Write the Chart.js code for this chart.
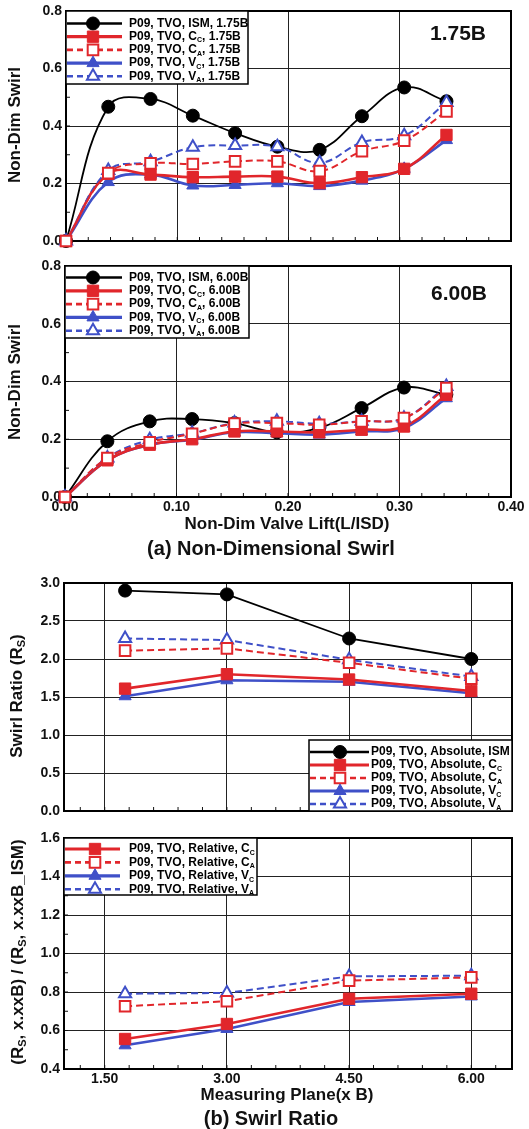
<!DOCTYPE html>
<html>
<head>
<meta charset="utf-8">
<script src="https://cdn.jsdelivr.net/npm/chart.js@4.4.1/dist/chart.umd.min.js"></script>
<style>
  body { margin: 0; background: #fff; width: 529px; height: 1129px; position: relative; overflow: hidden; }
  canvas { position: absolute; left: 0; }
  .cap { position: absolute; left: 0; width: 542px; text-align: center; font: bold 20px "Liberation Sans", Arial, sans-serif; color: #111; line-height: 22px; }
</style>
</head>
<body>
<canvas id="c1" width="529" height="252" style="top:0px"></canvas>
<canvas id="c2" width="529" height="290" style="top:252px"></canvas>
<div class="cap" style="top:537px">(a) Non-Dimensional Swirl</div>
<canvas id="c3" width="529" height="252" style="top:570px"></canvas>
<canvas id="c4" width="529" height="285" style="top:826px"></canvas>
<div class="cap" style="top:1107px">(b) Swirl Ratio</div>
<script>
// ---- data ----
var liftX = [0, 0.038, 0.076, 0.114, 0.152, 0.190, 0.228, 0.266, 0.304, 0.342];

var ism175 = [0, 0.467, 0.494, 0.436, 0.375, 0.328, 0.317, 0.434, 0.534, 0.486];
var cc175  = [0, 0.234, 0.231, 0.222, 0.224, 0.224, 0.201, 0.222, 0.251, 0.369];
var ca175  = [0, 0.236, 0.270, 0.268, 0.277, 0.277, 0.243, 0.312, 0.349, 0.451];
var vc175  = [0, 0.205, 0.231, 0.193, 0.195, 0.201, 0.191, 0.210, 0.251, 0.351];
var va175  = [0, 0.245, 0.276, 0.326, 0.332, 0.328, 0.272, 0.343, 0.366, 0.482];

var ism600 = [0, 0.193, 0.262, 0.270, 0.256, 0.224, 0.239, 0.308, 0.379, 0.355];
var cc600  = [0, 0.127, 0.181, 0.200, 0.227, 0.227, 0.224, 0.233, 0.244, 0.354];
var ca600  = [0, 0.135, 0.189, 0.219, 0.254, 0.256, 0.250, 0.262, 0.273, 0.377];
var vc600  = [0, 0.127, 0.181, 0.198, 0.224, 0.221, 0.216, 0.227, 0.239, 0.342];
var va600  = [0, 0.135, 0.198, 0.221, 0.256, 0.262, 0.254, 0.262, 0.273, 0.383];

var planes = [1.75, 3.00, 4.50, 6.00];
var absIsm = [2.90, 2.85, 2.27, 2.00];
var absCc  = [1.61, 1.80, 1.73, 1.58];
var absCa  = [2.11, 2.14, 1.95, 1.74];
var absVc  = [1.51, 1.72, 1.70, 1.55];
var absVa  = [2.27, 2.25, 1.99, 1.77];

var relCc = [0.556, 0.634, 0.765, 0.791];
var relCa = [0.726, 0.752, 0.859, 0.876];
var relVc = [0.523, 0.608, 0.748, 0.777];
var relVa = [0.791, 0.795, 0.881, 0.885];

var liftTicks  = [0, 0.1, 0.2, 0.3, 0.4];
var swirlTicks = [0, 0.2, 0.4, 0.6, 0.8];
var planeTicks = [1.5, 3.0, 4.5, 6.0];
var ratioTicks = [0, 0.5, 1.0, 1.5, 2.0, 2.5, 3.0];
var relTicks   = [0.4, 0.6, 0.8, 1.0, 1.2, 1.4, 1.6];

// ---- styles ----
var FONT = '"Liberation Sans", Arial, Helvetica, sans-serif';
var RED = '#e1262b', BLUE = '#3f50c8';
var styles = {
  ism: { borderColor: '#000', borderWidth: 1.8, pointStyle: 'circle', pointRadius: 6.5, pointBackgroundColor: '#000', pointBorderColor: '#000', order: 5 },
  cc:  { borderColor: RED, borderWidth: 2.6, pointStyle: 'rect', pointRadius: 8, pointBackgroundColor: RED, pointBorderColor: RED, order: 3 },
  ca:  { borderColor: RED, borderWidth: 2, borderDash: [7, 4], pointStyle: 'rect', pointRadius: 7.5, pointBackgroundColor: '#fff', pointBorderColor: RED, pointBorderWidth: 2, order: 1 },
  vc:  { borderColor: BLUE, borderWidth: 2.6, pointStyle: 'triangle', pointRadius: 7, pointBackgroundColor: BLUE, pointBorderColor: BLUE, order: 4 },
  va:  { borderColor: BLUE, borderWidth: 2, borderDash: [7, 4], pointStyle: 'triangle', pointRadius: 7, pointBackgroundColor: '#fff', pointBorderColor: BLUE, pointBorderWidth: 2, order: 2 }
};

function series(kind, label, xs, ys, tension) {
  var ds = Object.assign({ label: label, tension: tension, clip: false, fill: false, pointBorderWidth: 1 }, styles[kind]);
  ds.data = xs.map(function (x, i) { return { x: x, y: ys[i] }; });
  return ds;
}

// ---- text with subscripts ----
function drawRich(ctx, parts, x, y, size, align) {
  var main = 'bold ' + size + 'px ' + FONT;
  var small = 'bold ' + Math.round(size * 0.62) + 'px ' + FONT;
  var w = 0;
  parts.forEach(function (p) {
    ctx.font = typeof p === 'string' ? main : small;
    w += ctx.measureText(typeof p === 'string' ? p : p.sub).width;
  });
  var cx = align === 'center' ? x - w / 2 : x;
  ctx.textAlign = 'left';
  ctx.textBaseline = 'middle';
  parts.forEach(function (p) {
    if (typeof p === 'string') {
      ctx.font = main; ctx.fillText(p, cx, y); cx += ctx.measureText(p).width;
    } else {
      ctx.font = small; ctx.fillText(p.sub, cx, y + size * 0.32); cx += ctx.measureText(p.sub).width;
    }
  });
}

function drawMarker(ctx, ds, x, y) {
  var r = ds.pointRadius;
  ctx.save();
  ctx.setLineDash([]);
  ctx.fillStyle = ds.pointBackgroundColor;
  ctx.strokeStyle = ds.pointBorderColor;
  ctx.lineWidth = ds.pointBorderWidth || 1;
  ctx.beginPath();
  if (ds.pointStyle === 'circle') {
    ctx.arc(x, y, r, 0, Math.PI * 2);
  } else if (ds.pointStyle === 'rect') {
    var s = r / Math.SQRT2;
    ctx.rect(x - s, y - s, 2 * s, 2 * s);
  } else {
    ctx.moveTo(x, y - r);
    ctx.lineTo(x + r * 0.866, y + r * 0.5);
    ctx.lineTo(x - r * 0.866, y + r * 0.5);
    ctx.closePath();
  }
  ctx.fill();
  ctx.stroke();
  ctx.restore();
}

// frame round the plot and inward minor ticks
var framePlugin = {
  id: 'frame',
  beforeDatasetsDraw: function (chart, args, o) {
    var ctx = chart.ctx, a = chart.chartArea;
    var xs = chart.scales.x, ys = chart.scales.y;
    ctx.save();
    ctx.strokeStyle = '#111';
    ctx.lineWidth = 1;
    function minor(scale, step, base, horiz) {
      var v = base + Math.ceil((scale.min - base) / step - 1e-6) * step;
      for (; v <= scale.max + 1e-9; v += step) {
        var p = scale.getPixelForValue(v);
        ctx.beginPath();
        if (horiz) { ctx.moveTo(p, a.bottom); ctx.lineTo(p, a.bottom - 4); }
        else { ctx.moveTo(a.left, p); ctx.lineTo(a.left + 4, p); }
        ctx.stroke();
      }
    }
    if (o.xMinor) minor(xs, o.xMinor, o.xBase || 0, true);
    if (o.yMinor) minor(ys, o.yMinor, o.yBase || 0, false);
    ctx.lineWidth = 2;
    ctx.strokeStyle = '#000';
    ctx.strokeRect(a.left, a.top, a.right - a.left, a.bottom - a.top);
    ctx.restore();
  }
};

// boxed legend with line + marker samples
var legendPlugin = {
  id: 'boxLegend',
  afterDatasetsDraw: function (chart, args, o) {
    if (!o.items) return;
    var ctx = chart.ctx, a = chart.chartArea;
    var left = o.alignRight ? a.right - o.w : a.left;
    var top = o.alignBottom ? a.bottom - o.h : a.top;
    ctx.save();
    ctx.fillStyle = '#fff';
    ctx.fillRect(left, top, o.w, o.h);
    ctx.strokeStyle = '#000';
    ctx.lineWidth = 1.5;
    ctx.strokeRect(left, top, o.w, o.h);
    o.items.forEach(function (parts, i) {
      var ds = chart.data.datasets[i];
      var y = top + o.first + i * o.row;
      ctx.strokeStyle = ds.borderColor;
      ctx.lineWidth = ds.borderWidth + 0.6;
      ctx.setLineDash(ds.borderDash ? [6, 4] : []);
      ctx.beginPath();
      ctx.moveTo(left + 1, y);
      ctx.lineTo(left + o.lineW, y);
      ctx.stroke();
      drawMarker(ctx, ds, left + o.markX, y);
      ctx.fillStyle = '#000';
      drawRich(ctx, parts, left + o.textX, y, 12, 'left');
    });
    ctx.restore();
  }
};

// axis titles and panel labels
var textPlugin = {
  id: 'texts',
  afterDraw: function (chart, args, o) {
    var ctx = chart.ctx;
    ctx.save();
    ctx.fillStyle = '#111';
    (o.items || []).forEach(function (t) {
      ctx.save();
      ctx.translate(t.x, t.y);
      if (t.rotate) ctx.rotate(-Math.PI / 2);
      drawRich(ctx, t.parts, 0, 0, t.size, 'center');
      ctx.restore();
    });
    ctx.restore();
  }
};

Chart.register(framePlugin, legendPlugin, textPlugin);

function axis(min, max, ticks, digits, showLabels, fixedSize, horiz) {
  var ax = {
    type: 'linear', min: min, max: max,
    afterBuildTicks: function (s) { s.ticks = ticks.map(function (v) { return { value: v }; }); },
    grid: { color: '#222', lineWidth: 1, drawTicks: false },
    border: { display: false },
    ticks: {
      display: showLabels, color: '#111', padding: horiz ? 3 : 4,
      font: { family: FONT, size: 14, weight: 'bold', lineHeight: 1 },
      callback: function (v) { return Number(v).toFixed(digits); }
    }
  };
  ax.afterFit = horiz ? function (s) { s.height = fixedSize; } : function (s) { s.width = fixedSize; };
  return ax;
}

function makeChart(id, datasets, cfg) {
  return new Chart(document.getElementById(id), {
    type: 'line',
    data: { datasets: datasets },
    options: {
      responsive: false, animation: false, events: [],
      layout: { padding: { top: cfg.top, right: cfg.right, left: 0, bottom: 0 } },
      plugins: {
        legend: { display: false }, tooltip: { enabled: false },
        frame: cfg.frame, boxLegend: cfg.legend, texts: { items: cfg.texts }
      },
      scales: { x: cfg.x, y: cfg.y }
    }
  });
}

function lab(pre, sub, post) { return [pre, { sub: sub }, post]; }

// (a) 1.75B
makeChart('c1', [
  series('ism', 'P09, TVO, ISM, 1.75B', liftX, ism175, 0.4),
  series('cc', 'P09, TVO, CC, 1.75B', liftX, cc175, 0.4),
  series('ca', 'P09, TVO, CA, 1.75B', liftX, ca175, 0.4),
  series('vc', 'P09, TVO, VC, 1.75B', liftX, vc175, 0.4),
  series('va', 'P09, TVO, VA, 1.75B', liftX, va175, 0.4)
], {
  top: 10, right: 18,
  x: axis(0, 0.4, liftTicks, 2, false, 11, true),
  y: axis(0, 0.8, swirlTicks, 1, true, 66, false),
  frame: { xMinor: 0.02, yMinor: 0.1 },
  legend: {
    w: 182, h: 73, first: 12.5, row: 13.2, lineW: 56, markX: 27, textX: 63,
    items: [['P09, TVO, ISM, 1.75B'], lab('P09, TVO, C', 'C', ', 1.75B'), lab('P09, TVO, C', 'A', ', 1.75B'),
            lab('P09, TVO, V', 'C', ', 1.75B'), lab('P09, TVO, V', 'A', ', 1.75B')]
  },
  texts: [
    { parts: ['Non-Dim Swirl'], x: 15, y: 125, size: 17, rotate: true },
    { parts: ['1.75B'], x: 458, y: 34, size: 21 }
  ]
});

// (a) 6.00B
makeChart('c2', [
  series('ism', 'P09, TVO, ISM, 6.00B', liftX, ism600, 0.4),
  series('cc', 'P09, TVO, CC, 6.00B', liftX, cc600, 0.4),
  series('ca', 'P09, TVO, CA, 6.00B', liftX, ca600, 0.4),
  series('vc', 'P09, TVO, VC, 6.00B', liftX, vc600, 0.4),
  series('va', 'P09, TVO, VA, 6.00B', liftX, va600, 0.4)
], {
  top: 14, right: 18,
  x: axis(0, 0.4, liftTicks, 2, true, 45, true),
  y: axis(0, 0.8, swirlTicks, 1, true, 65, false),
  frame: { xMinor: 0.02, yMinor: 0.1 },
  legend: {
    w: 184, h: 72, first: 11.5, row: 13.3, lineW: 57, markX: 28, textX: 64,
    items: [['P09, TVO, ISM, 6.00B'], lab('P09, TVO, C', 'C', ', 6.00B'), lab('P09, TVO, C', 'A', ', 6.00B'),
            lab('P09, TVO, V', 'C', ', 6.00B'), lab('P09, TVO, V', 'A', ', 6.00B')]
  },
  texts: [
    { parts: ['Non-Dim Swirl'], x: 15, y: 130, size: 17, rotate: true },
    { parts: ['6.00B'], x: 459, y: 42, size: 21 },
    { parts: ['Non-Dim Valve Lift(L/ISD)'], x: 287, y: 272, size: 17 }
  ]
});

// (b) absolute swirl ratio
makeChart('c3', [
  series('ism', 'P09, TVO, Absolute, ISM', planes, absIsm, 0),
  series('cc', 'P09, TVO, Absolute, CC', planes, absCc, 0),
  series('ca', 'P09, TVO, Absolute, CA', planes, absCa, 0),
  series('vc', 'P09, TVO, Absolute, VC', planes, absVc, 0),
  series('va', 'P09, TVO, Absolute, VA', planes, absVa, 0)
], {
  top: 13, right: 17,
  x: axis(1.0, 6.5, planeTicks, 2, false, 10, true),
  y: axis(0, 3.0, ratioTicks, 1, true, 64, false),
  frame: { xMinor: 0.3, xBase: 1.5 },
  legend: {
    alignRight: true, alignBottom: true,
    w: 203, h: 71, first: 12, row: 13, lineW: 60, markX: 31, textX: 62,
    items: [['P09, TVO, Absolute, ISM'], lab('P09, TVO, Absolute, C', 'C', ''), lab('P09, TVO, Absolute, C', 'A', ''),
            lab('P09, TVO, Absolute, V', 'C', ''), lab('P09, TVO, Absolute, V', 'A', '')]
  },
  texts: [
    { parts: ['Swirl Ratio (R', { sub: 'S' }, ')'], x: 17, y: 126, size: 17, rotate: true }
  ]
});

// (b) relative swirl ratio
makeChart('c4', [
  series('cc', 'P09, TVO, Relative, CC', planes, relCc, 0),
  series('ca', 'P09, TVO, Relative, CA', planes, relCa, 0),
  series('vc', 'P09, TVO, Relative, VC', planes, relVc, 0),
  series('va', 'P09, TVO, Relative, VA', planes, relVa, 0)
], {
  top: 12, right: 17,
  x: axis(1.0, 6.5, planeTicks, 2, true, 42, true),
  y: axis(0.4, 1.6, relTicks, 1, true, 64, false),
  frame: { xMinor: 0.3, xBase: 1.5, yMinor: 0.1, yBase: 0.4 },
  legend: {
    w: 193, h: 57, first: 11, row: 13.4, lineW: 56, markX: 31, textX: 65,
    items: [lab('P09, TVO, Relative, C', 'C', ''), lab('P09, TVO, Relative, C', 'A', ''),
            lab('P09, TVO, Relative, V', 'C', ''), lab('P09, TVO, Relative, V', 'A', '')]
  },
  texts: [
    { parts: ['(R', { sub: 'S' }, ', x.xxB) / (R', { sub: 'S' }, ', x.xxB_ISM)'], x: 18, y: 126, size: 17, rotate: true },
    { parts: ['Measuring Plane(x B)'], x: 287, y: 269, size: 17 }
  ]
});
</script>
</body>
</html>
